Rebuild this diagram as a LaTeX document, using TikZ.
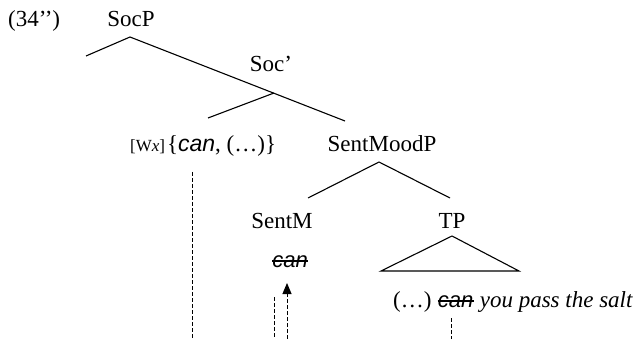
\documentclass[tikz,border=0pt]{standalone}
\usepackage{fontspec}
\setmainfont{Liberation Serif}
\newfontfamily\arialfont{Liberation Sans}
\usetikzlibrary{arrows.meta}
\tikzset{
    lbl/.style={inner sep=0pt, anchor=base, font=\fontsize{23}{27}\selectfont},
    cantxt/.style={lbl, font=\fontsize{22}{27}\selectfont\arialfont\itshape},
    branch/.style={line width=1.1pt},
    trace/.style={line width=1pt, dash pattern=on 4pt off 2pt},
    struck/.style={line width=1.8pt}
}

\begin{document}
\begin{tikzpicture}[x=1pt,y=-1pt]
      \useasboundingbox (0,0) rectangle (634,339);
      % labels
      \node[lbl,anchor=base west] (exnum) at (8,27) {(34’’)};
      \node[lbl] (socp) at (131,27) {SocP};
      \node[lbl] (socbar) at (271,72) {Soc’};
      \node[lbl,anchor=base west] (wx) at (130,152) {{\fontsize{17}{17}\selectfont[W\textit{x}]}\kern2pt\{{\arialfont\itshape can}, (…)\}};
      \node[lbl] (smp) at (382,152) {SentMoodP};
      \node[lbl] (sentm) at (282,228) {SentM};
      \node[lbl] (tp) at (452,228) {TP};
      \node[cantxt] (cansm) at (290,267) {can};
      \node[lbl,anchor=base west] (dots) at (393,307) {(…)};
      \node[cantxt,anchor=base west] (cantp) at ([xshift=6pt]dots.base east) {can};
      \node[lbl,anchor=base west] (rest) at ([xshift=6pt]cantp.base east) {\textit{you pass the salt}};
      % branch points
      \coordinate (socp-top) at (130,37);
      \coordinate (socp-l) at (86,56);
      \coordinate (socp-r) at (345,121);
      \coordinate (socbar-top) at (274,93);
      \coordinate (socbar-l) at (208,118);
      \coordinate (smp-top) at (379,162);
      \coordinate (smp-l) at (308,198);
      \coordinate (smp-r) at (450,198);
      \coordinate (tp-top) at (452,236);
      \coordinate (tp-l) at (381,271);
      \coordinate (tp-r) at (519,271);
      % tree
      \draw[branch] (socp-l) -- (socp-top) -- (socp-r);
      \draw[branch] (socbar-top) -- (socbar-l);
      \draw[branch] (smp-l) -- (smp-top) -- (smp-r);
      \draw[branch] (tp-l) -- (tp-top) -- (tp-r) -- cycle;
      % struck copies
      \draw[struck] (cansm.west) -- (cansm.east);
      \draw[struck] (cantp.west) -- (cantp.east);
      % traces
      \coordinate (wx-tr) at (192,172);
      \coordinate (wx-bot) at (192,339);
      \coordinate (sm-tr) at (274,297);
      \coordinate (sm-bot) at (274,339);
      \coordinate (mv-bot) at (287,339);
      \coordinate (mv-tip) at (287,283);
      \coordinate (tp-tr) at (451,318);
      \coordinate (tp-bot) at (451,339);
      \draw[trace] (wx-tr) -- (wx-bot);
      \draw[trace] (sm-tr) -- (sm-bot);
      \draw[trace,-{Triangle[width=9pt,length=11pt]}] (mv-bot) -- (mv-tip);
      \draw[trace] (tp-tr) -- (tp-bot);
\end{tikzpicture}
\end{document}
